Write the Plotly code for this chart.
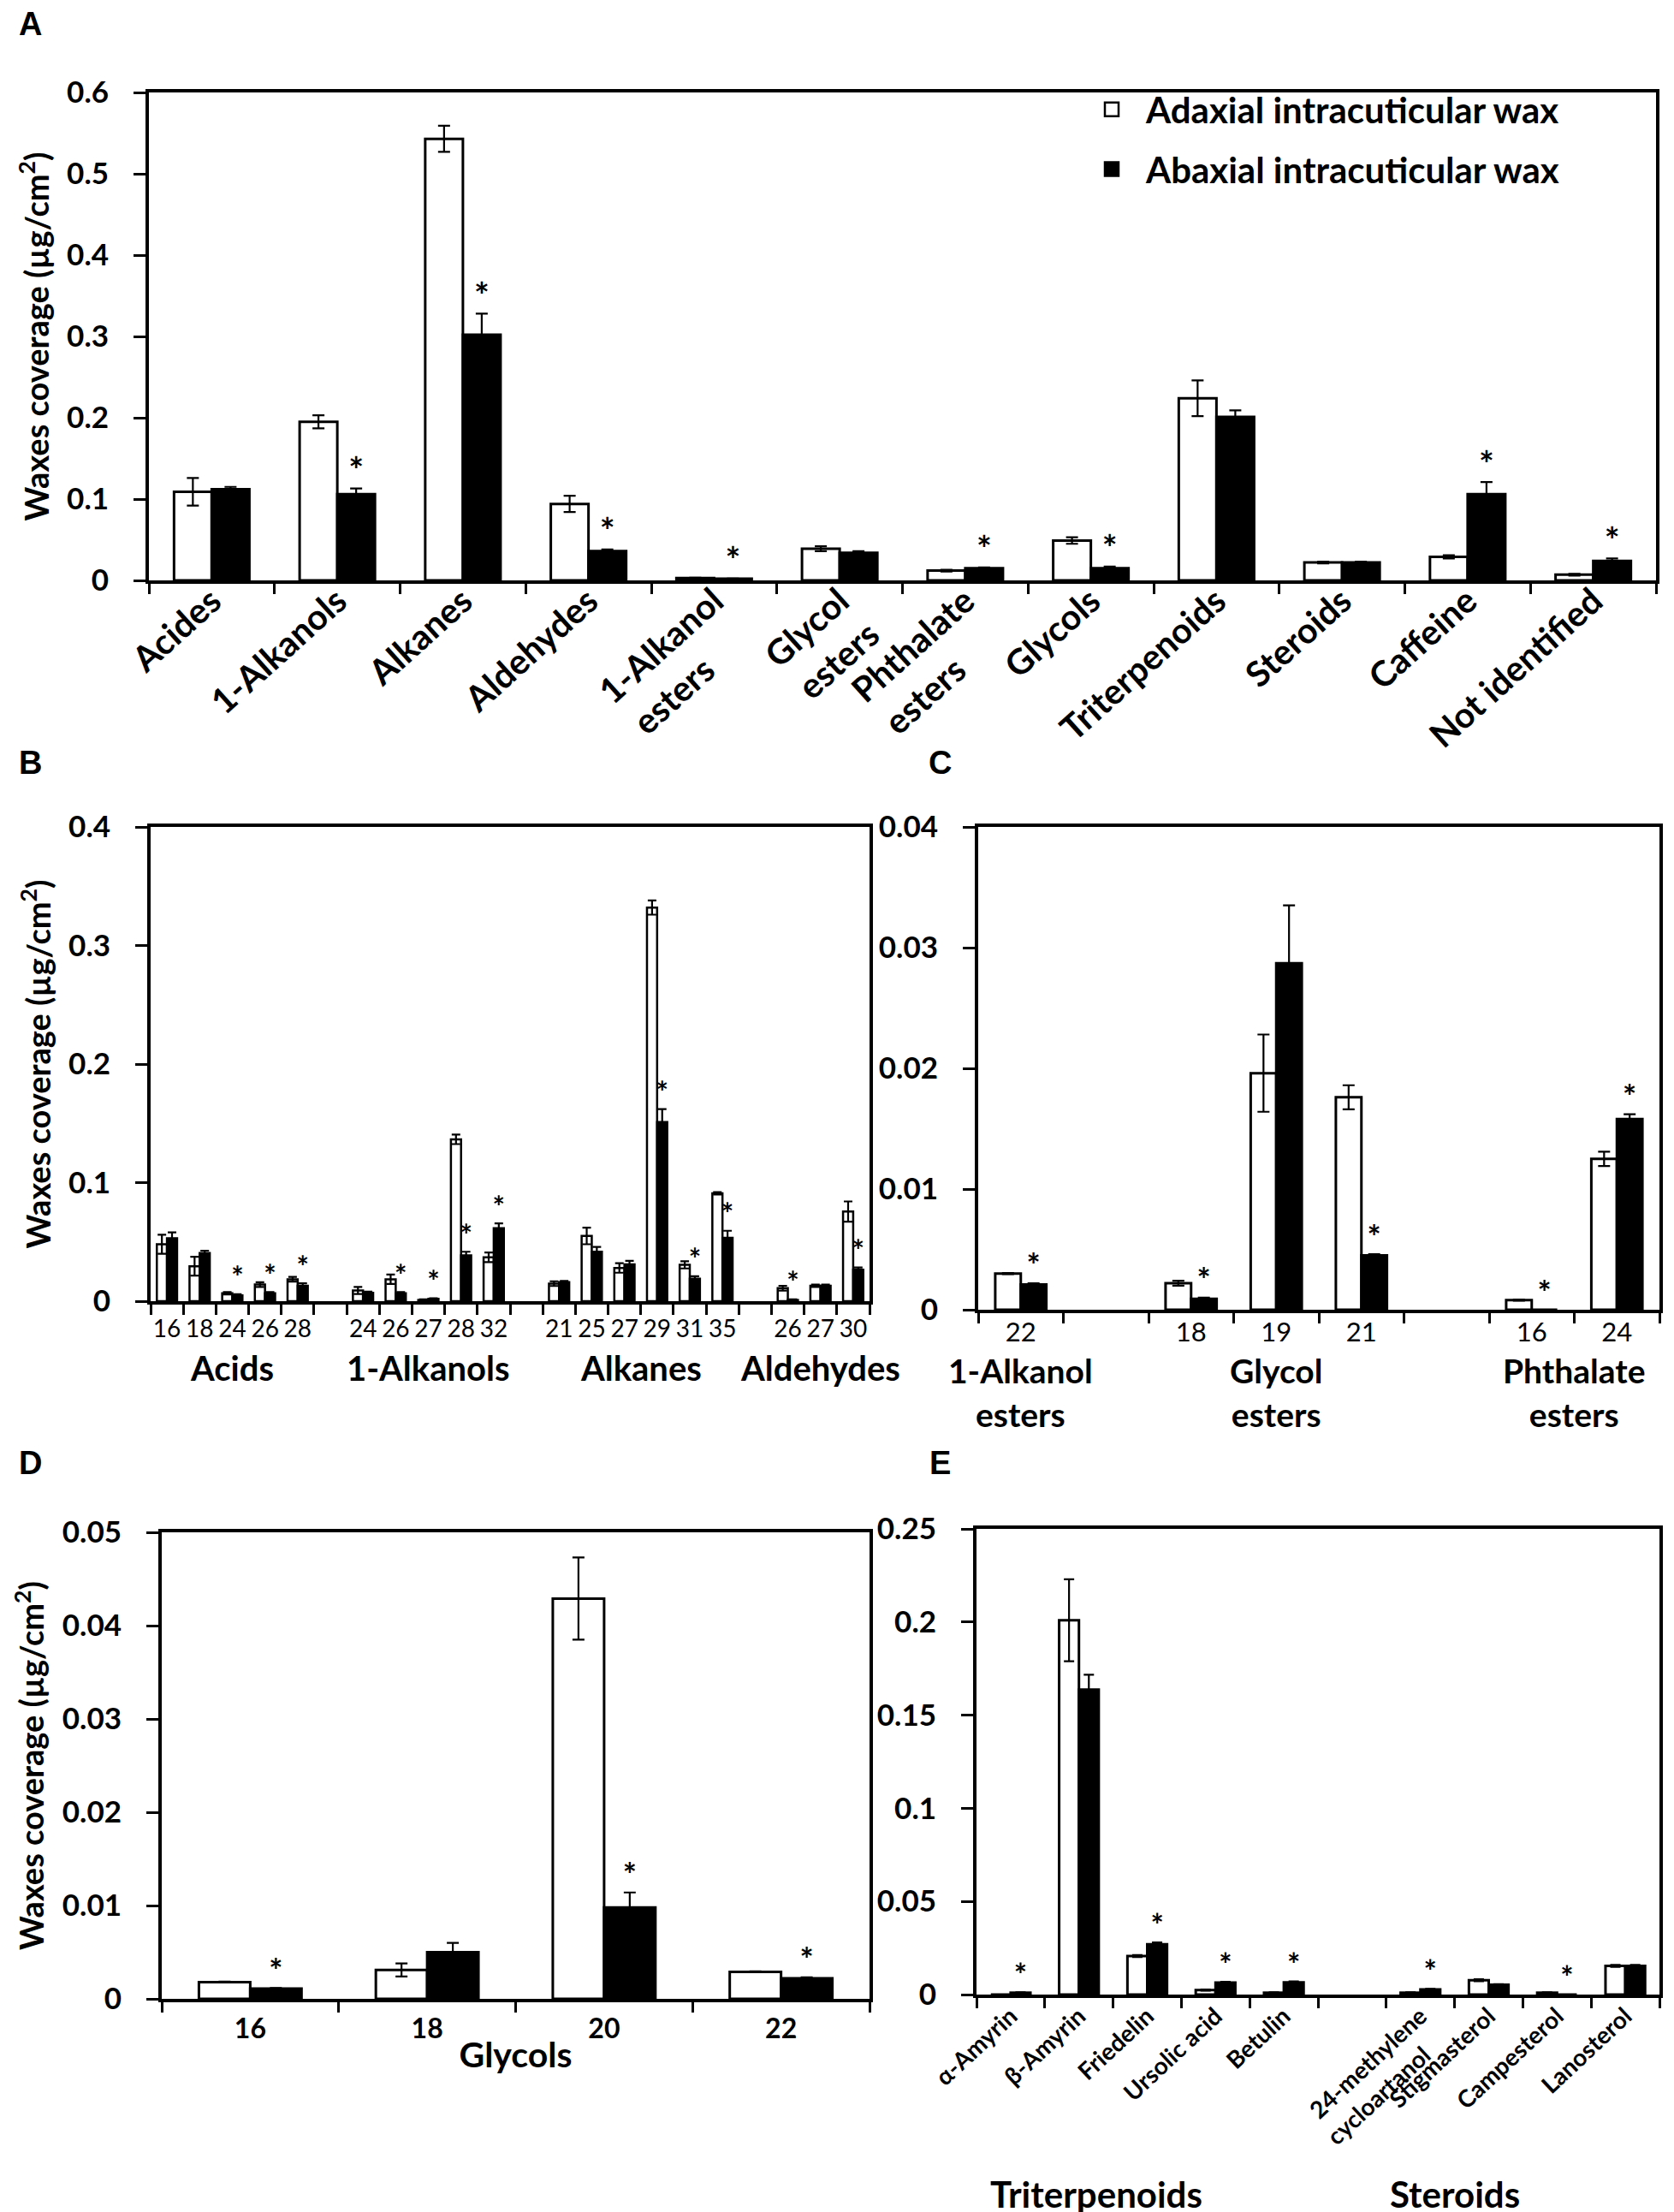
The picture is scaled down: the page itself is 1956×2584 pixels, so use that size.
import plotly.graph_objects as go

W, H = 1956, 2584
FONT = "Lato, 'DejaVu Sans', sans-serif"
PAD = "\u2002"  # en space, used to centre the second line of rotated two-line labels

# ---------------- Data ----------------
# Panel A: wax classes
A_labels = ["Acides", "1-Alkanols", "Alkanes", "Aldehydes", "1-Alkanol<br>esters" + PAD * 3,
            "Glycol<br>esters", "Phthalate<br>esters" + PAD * 3, "Glycols", "Triterpenoids",
            "Steroids", "Caffeine", "Not identified"]
A_ad = [0.109, 0.195, 0.543, 0.094, 0.003, 0.039, 0.012, 0.049, 0.224, 0.022, 0.029, 0.007]
A_ad_err = [0.017, 0.008, 0.016, 0.010, 0.0003, 0.003, 0.001, 0.004, 0.022, 0.001, 0.002, 0.001]
A_ab = [0.112, 0.106, 0.302, 0.036, 0.002, 0.034, 0.015, 0.015, 0.201, 0.022, 0.106, 0.024]
A_ab_err = [0.003, 0.007, 0.026, 0.002, 0.0002, 0.002, 0.001, 0.002, 0.008, 0.001, 0.015, 0.003]
A_sig = [0, 1, 1, 1, 1, 0, 1, 1, 0, 0, 1, 1]

# Panel B: chain lengths of acids, 1-alkanols, alkanes, aldehydes
B_labels = ["16", "18", "24", "26", "28", "",
            "24", "26", "27", "28", "32", "",
            "21", "25", "27", "29", "31", "35", "",
            "26", "27", "30"]
B_ad = [0.048, 0.0295, 0.0066, 0.014, 0.0185, None,
        0.009, 0.0185, 0.001, 0.1365, 0.037, None,
        0.0148, 0.055, 0.028, 0.332, 0.0306, 0.091, None,
        0.011, 0.013, 0.0756]
B_ad_err = [0.008, 0.008, 0.001, 0.002, 0.002, None,
            0.003, 0.004, 0.0005, 0.004, 0.004, None,
            0.002, 0.007, 0.004, 0.006, 0.003, 0.001, None,
            0.002, 0.001, 0.0085]
B_ab = [0.053, 0.0406, 0.0048, 0.0066, 0.013, None,
        0.007, 0.0066, 0.002, 0.0387, 0.0616, None,
        0.016, 0.0417, 0.031, 0.151, 0.019, 0.0534, None,
        0.001, 0.013, 0.0265]
B_ab_err = [0.005, 0.002, 0.001, 0.001, 0.002, None,
            0.001, 0.001, 0.0005, 0.003, 0.004, None,
            0.001, 0.004, 0.003, 0.011, 0.002, 0.006, None,
            0.0005, 0.001, 0.002]
B_sig = [0, 0, 1, 1, 1, 0,
         0, 1, 1, 1, 1, 0,
         0, 0, 0, 1, 1, 1, 0,
         1, 0, 1]
B_groups = ["Acids", "1-Alkanols", "Alkanes", "Aldehydes"]
B_group_slots = [(0, 4), (6, 10), (12, 17), (19, 21)]

# Panel C: esters
C_labels = ["22", "", "18", "19", "21", "", "16", "24"]
C_ad = [0.0030, None, 0.0022, 0.0196, 0.0176, None, 0.0008, 0.0125]
C_ad_err = [0.00005, None, 0.0002, 0.0032, 0.001, None, 0.00005, 0.0006]
C_ab = [0.0021, None, 0.0009, 0.0287, 0.0045, None, 0.0, 0.0158]
C_ab_err = [0.0001, None, 0.0001, 0.0048, 0.0001, None, 0.0, 0.0004]
C_sig = [1, 0, 1, 0, 1, 0, 1, 1]
C_groups = ["1-Alkanol<br>esters", "Glycol<br>esters", "Phthalate<br>esters"]
C_group_slots = [(0, 0), (2, 4), (6, 7)]

# Panel D: glycols
D_labels = ["16", "18", "20", "22"]
D_ad = [0.0018, 0.0031, 0.0429, 0.0029]
D_ad_err = [0.00005, 0.0007, 0.0044, 0.00005]
D_ab = [0.0011, 0.0050, 0.0098, 0.0022]
D_ab_err = [0.00005, 0.001, 0.0016, 0.0001]
D_sig = [1, 0, 1, 1]

# Panel E: triterpenoids and steroids
E_labels = ["α-Amyrin", "β-Amyrin", "Friedelin", "Ursolic acid", "Betulin", "",
            "24-methylene<br>cycloartanol" + PAD * 2, "Stigmasterol", "Campesterol", "Lanosterol"]
E_ad = [0.0, 0.2009, 0.0207, 0.0024, 0.001, None, 0.001, 0.0077, 0.001, 0.0154]
E_ad_err = [0.0, 0.022, 0.0005, 0.0003, 0.0002, None, 0.0002, 0.0005, 0.0002, 0.0005]
E_ab = [0.001, 0.1637, 0.027, 0.0064, 0.0066, None, 0.0027, 0.0053, 0.0, 0.0154]
E_ab_err = [0.0002, 0.008, 0.001, 0.0005, 0.0005, None, 0.0003, 0.0003, 0.0, 0.0005]
E_sig = [1, 0, 1, 1, 1, 0, 1, 0, 1, 0]
E_groups = ["Triterpenoids", "Steroids"]
E_group_x = [1.25, 6.5]

Y_TITLE = "Waxes coverage (µg/cm<sup>2</sup>)"
SERIES = ["Adaxial intracuticular wax", "Abaxial intracuticular wax"]

fig = go.Figure()


def dom_x(l, r):
    return [l / W, r / W]


def dom_y(t, b):
    return [1 - b / H, 1 - t / H]


def add_panel(n, labels, ad, ad_err, ab, ab_err, sig, ymax, plot_h, gw, lw, ew, star_size):
    xa = "x" if n == 1 else f"x{n}"
    ya = "y" if n == 1 else f"y{n}"
    xs = list(range(len(labels)))
    fig.add_trace(go.Bar(
        x=xs, y=ad, width=gw / 2, offset=-gw / 2, name=SERIES[0],
        marker=dict(color="white", line=dict(color="black", width=lw)),
        error_y=dict(type="data", array=ad_err, color="black", thickness=2.2, width=ew),
        xaxis=xa, yaxis=ya, showlegend=False))
    fig.add_trace(go.Bar(
        x=xs, y=ab, width=gw / 2, offset=0, name=SERIES[1],
        marker=dict(color="black", line=dict(color="black", width=lw)),
        error_y=dict(type="data", array=ab_err, color="black", thickness=2.2, width=ew),
        xaxis=xa, yaxis=ya, showlegend=False))
    pad = 16 / plot_h * ymax
    sx, sy = [], []
    for i in xs:
        if sig[i]:
            sx.append(i + gw / 4)
            sy.append((ab[i] or 0) + (ab_err[i] or 0) + pad)
    fig.add_trace(go.Scatter(
        x=sx, y=sy, mode="text", text=["*"] * len(sx), textposition="middle center",
        textfont=dict(size=star_size, color="black", family=FONT, weight="bold"),
        xaxis=xa, yaxis=ya, showlegend=False, hoverinfo="skip"))


def x_axis(n, labels, dom, fsize, angle, standoff, bold=True):
    N = len(labels)
    vals = [i for i in range(N) if labels[i]]
    return dict(
        domain=dom, anchor="y" if n == 1 else f"y{n}", range=[-0.5, N - 0.5],
        automargin=False,
        tickmode="array", tickvals=vals, ticktext=[labels[i] for i in vals], ticks="",
        tickangle=angle, ticklabelstandoff=standoff,
        tickfont=dict(size=fsize, family=FONT, color="black", weight="bold" if bold else "normal"),
        showline=True, linecolor="black", linewidth=4, mirror=True,
        showgrid=False, zeroline=False,
        minor=dict(tickmode="array", tickvals=[i - 0.5 for i in range(N + 1)],
                   ticks="outside", ticklen=12, tickwidth=3, tickcolor="black"))


def y_axis(n, dom, ymax, dtick, title=None):
    d = dict(
        domain=dom, anchor="x" if n == 1 else f"x{n}", range=[0, ymax], dtick=dtick,
        automargin=False,
        tick0=0, ticks="outside", ticklen=14, tickwidth=3, tickcolor="black",
        ticklabelstandoff=22,
        tickfont=dict(size=35, family=FONT, color="black", weight="bold"),
        showline=True, linecolor="black", linewidth=4, mirror=True,
        showgrid=False, zeroline=False)
    if title:
        d["title"] = dict(text=title, font=dict(size=38, family=FONT, color="black", weight="bold"),
                          standoff=10)
    return d


add_panel(1, A_labels, A_ad, A_ad_err, A_ab, A_ab_err, A_sig, 0.6, 570, 0.6, 3, 7, 42)
add_panel(2, B_labels, B_ad, B_ad_err, B_ab, B_ab_err, B_sig, 0.4, 554, 0.62, 2.5, 5, 34)
add_panel(3, C_labels, C_ad, C_ad_err, C_ab, C_ab_err, C_sig, 0.04, 564, 0.6, 3, 7, 38)
add_panel(4, D_labels, D_ad, D_ad_err, D_ab, D_ab_err, D_sig, 0.05, 545, 0.58, 3, 7, 38)
add_panel(5, E_labels, E_ad, E_ad_err, E_ab, E_ab_err, E_sig, 0.25, 544, 0.58, 3, 6, 36)

# legend proxies
fig.add_trace(go.Scatter(x=[None], y=[None], mode="markers", name=SERIES[0], legendgroup="ad",
                         marker=dict(symbol="square", size=16, color="white",
                                     line=dict(color="black", width=2.5))))
fig.add_trace(go.Scatter(x=[None], y=[None], mode="markers", name=SERIES[1], legendgroup="ab",
                         marker=dict(symbol="square", size=16, color="black",
                                     line=dict(color="black", width=2.5))))

layout = dict(
    width=W, height=H, margin=dict(l=0, r=0, t=0, b=0, autoexpand=False),
    paper_bgcolor="white", plot_bgcolor="white",
    font=dict(family=FONT, color="black"),
    showlegend=True,
    legend=dict(x=1251 / W, y=1 - 86 / H, xanchor="left", yanchor="top",
                font=dict(size=42, family=FONT, color="black", weight="bold"),
                itemwidth=70, itemsizing="trace", tracegroupgap=12,
                bgcolor="rgba(0,0,0,0)"),
    xaxis=x_axis(1, A_labels, dom_x(166, 1927), 41, -42, -20),
    yaxis=y_axis(1, dom_y(100, 670), 0.6, 0.1, Y_TITLE),
    xaxis2=x_axis(2, B_labels, dom_x(168, 1008), 28, 0, 4, bold=False),
    yaxis2=y_axis(2, dom_y(958, 1512), 0.4, 0.1, Y_TITLE),
    xaxis3=x_axis(3, C_labels, dom_x(1135, 1931), 31, 0, -4, bold=False),
    yaxis3=y_axis(3, dom_y(958, 1522), 0.04, 0.01),
    xaxis4=x_axis(4, D_labels, dom_x(181, 1008), 32, 0, 4),
    yaxis4=y_axis(4, dom_y(1782, 2327), 0.05, 0.01, Y_TITLE),
    xaxis5=x_axis(5, E_labels, dom_x(1133, 1931), 28, -43, -6),
    yaxis5=y_axis(5, dom_y(1778, 2322), 0.25, 0.05),
)
layout["xaxis4"]["title"] = dict(text="Glycols", font=dict(size=41, family=FONT, color="black", weight="bold"),
                                 standoff=0)
fig.update_layout(**layout)

ann = []
# panel letters
for letter, (px, py) in zip("ABCDE", [(27, 20), (27, 883), (1090, 883), (27, 1701), (1090, 1701)]):
    ann.append(dict(text=letter, x=px / W, y=1 - py / H, xref="paper", yref="paper",
                    xanchor="center", yanchor="middle", showarrow=False,
                    font=dict(size=38, family="Liberation Sans, Arial", color="black", weight="bold")))
# group labels B
for name, (s0, s1) in zip(B_groups, B_group_slots):
    ann.append(dict(text=name, x=(s0 + s1) / 2, y=1 - 1590 / H, xref="x2", yref="paper",
                    xanchor="center", yanchor="middle", showarrow=False,
                    font=dict(size=40, family=FONT, color="black", weight="bold")))
# group labels C
for name, (s0, s1) in zip(C_groups, C_group_slots):
    ann.append(dict(text=name, x=(s0 + s1) / 2, y=1 - 1568 / H, xref="x3", yref="paper",
                    xanchor="center", yanchor="top", showarrow=False,
                    font=dict(size=39, family=FONT, color="black", weight="bold")))
# group labels E
for name, gx in zip(E_groups, E_group_x):
    ann.append(dict(text=name, x=gx, y=1 - 2555 / H, xref="x5", yref="paper",
                    xanchor="center", yanchor="middle", showarrow=False,
                    font=dict(size=42, family=FONT, color="black", weight="bold")))
fig.update_layout(annotations=ann)

fig.write_html("out.html")
